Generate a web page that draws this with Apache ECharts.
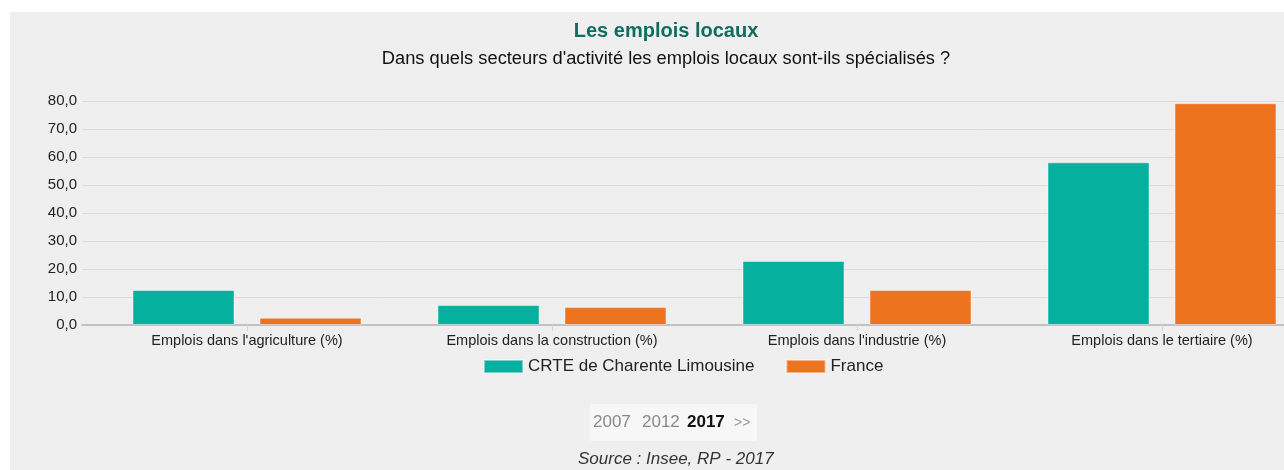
<!DOCTYPE html>
<html>
<head>
<meta charset="utf-8">
<script src="https://cdn.jsdelivr.net/npm/echarts@6/dist/echarts.min.js"></script>
<style>
html,body{margin:0;padding:0;background:#ffffff;}
#chart{position:absolute;left:0;top:0;width:1284px;height:470px;}
</style>
</head>
<body>
<div id="chart"></div>
<script>
const categories = ["Emplois dans l'agriculture (%)", "Emplois dans la construction (%)", "Emplois dans l'industrie (%)", "Emplois dans le tertiaire (%)"];
const seriesNames = ["CRTE de Charente Limousine", "France"];
const crteValues = [12.5, 7.1, 22.9, 58.1];
const franceValues = [2.6, 6.4, 12.5, 79.2];
const yTicks = [0, 10, 20, 30, 40, 50, 60, 70, 80];
const years = ["2007", "2012", "2017"];
const sourceText = "Source : Insee, RP - 2017";

const FONT = "'Liberation Sans', Arial, sans-serif";
const chart = echarts.init(document.getElementById('chart'), null, {renderer: 'canvas'});

const yMin = yTicks[0], yMax = yTicks[yTicks.length - 1], yStep = yTicks[1] - yTicks[0];

const option = {
  animation: false,
  backgroundColor: 'transparent',
  textStyle: {fontFamily: FONT},
  graphic: [
    {type: 'rect', z: -10, shape: {x: 10, y: 12, width: 1274, height: 458}, style: {fill: '#efefef'}},
    {type: 'rect', z: -5, shape: {x: 590, y: 404, width: 167, height: 37}, style: {fill: '#f7f7f7'}},
    {type: 'text', left: 593, top: 414, style: {text: years[0], font: '17px ' + FONT, fill: '#888888'}},
    {type: 'text', left: 642, top: 414, style: {text: years[1], font: '17px ' + FONT, fill: '#888888'}},
    {type: 'text', left: 687, top: 414, style: {text: years[2], font: 'bold 17px ' + FONT, fill: '#111111'}},
    {type: 'text', left: 734, top: 416, style: {text: '>>', font: '14px ' + FONT, fill: '#999999'}},
    {type: 'text', left: 578, top: 451, style: {text: sourceText, font: 'italic 17px ' + FONT, fill: '#333333'}}
  ],
  title: [
    {text: 'Les emplois locaux', left: 661, top: 16, textAlign: 'center',
     textStyle: {fontFamily: FONT, fontSize: 20, fontWeight: 'bold', color: '#0f6d60'}},
    {text: "Dans quels secteurs d'activité les emplois locaux sont-ils spécialisés ?", left: 661, top: 45, textAlign: 'center',
     textStyle: {fontFamily: FONT, fontSize: 18.3, fontWeight: 'normal', color: '#111111'}}
  ],
  legend: {
    left: 478, top: 353,
    itemWidth: 39, itemHeight: 13, itemGap: 31,
    icon: 'rect',
    textStyle: {fontFamily: FONT, fontSize: 17, color: '#222222'},
    data: seriesNames
  },
  grid: [
    {left: 82, right: 0, top: 101, height: 224, containLabel: false, outerBoundsMode: 'none'},
    {left: 94.5, width: 1220, top: 101, height: 224, containLabel: false, outerBoundsMode: 'none'}
  ],
  xAxis: [
    {gridIndex: 0, type: 'value', min: 0, max: 1, show: true,
     axisLine: {show: true, lineStyle: {color: '#c2c2c2', width: 2}},
     axisTick: {show: false}, axisLabel: {show: false}, splitLine: {show: false}},
    {gridIndex: 1, type: 'category', data: categories,
     axisLine: {show: false},
     axisTick: {show: true, alignWithLabel: true, length: 6, lineStyle: {color: '#d4d4d4'}},
     axisLabel: {fontFamily: FONT, fontSize: 14.5, color: '#222222', margin: 8, interval: 0},
     splitLine: {show: false}}
  ],
  yAxis: [
    {gridIndex: 0, type: 'value', min: yMin, max: yMax, interval: yStep,
     axisLine: {show: false}, axisTick: {show: false},
     axisLabel: {fontFamily: FONT, fontSize: 15, color: '#222222', margin: 5,
       formatter: v => v.toFixed(1).replace('.', ',')},
     splitLine: {show: true, lineStyle: {color: '#dcdcdc', width: 1}}},
    {gridIndex: 1, type: 'value', min: yMin, max: yMax, interval: yStep, show: false,
     splitLine: {show: false}}
  ],
  series: [
    {name: seriesNames[0], type: 'bar', xAxisIndex: 1, yAxisIndex: 1, data: crteValues,
     barWidth: 102, barGap: '24.5%',
     itemStyle: {color: '#06b09e', borderColor: 'rgba(255,255,255,0.45)', borderWidth: 1}},
    {name: seriesNames[1], type: 'bar', xAxisIndex: 1, yAxisIndex: 1, data: franceValues,
     barWidth: 102, barGap: '24.5%',
     itemStyle: {color: '#ee731f', borderColor: 'rgba(255,255,255,0.45)', borderWidth: 1}}
  ]
};
chart.setOption(option);
</script>
</body>
</html>
